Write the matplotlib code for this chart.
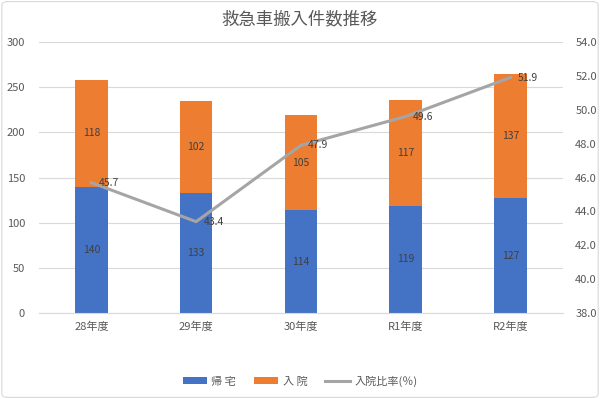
import numpy as np
import matplotlib.pyplot as plt
from matplotlib.patches import FancyBboxPatch

plt.rcParams['font.family'] = ['Noto Sans CJK JP', 'DejaVu Sans']

# データ
categories = ['28年度', '29年度', '30年度', 'R1年度', 'R2年度']
kitaku = [140, 133, 114, 119, 127]
nyuin = [118, 102, 105, 117, 137]
ratio = [45.7, 43.4, 47.9, 49.6, 51.9]

blue = '#4472C4'
orange = '#ED7D31'
gray_line = '#A5A5A5'
text_gray = '#595959'

fig = plt.figure(figsize=(6, 3.99), dpi=100)
ax = fig.add_axes([0.065, 0.215, 0.873, 0.68])
ax2 = ax.twinx()

x = np.arange(len(categories))
w = 0.31
b1 = ax.bar(x, kitaku, w, color=blue, label='帰 宅', zorder=2)
b2 = ax.bar(x, nyuin, w, bottom=kitaku, color=orange, label='入 院', zorder=2)

for i in range(len(x)):
    ax.text(x[i], kitaku[i] / 2, str(kitaku[i]), ha='center', va='center',
            fontsize=7.5, color='#404040', zorder=3)
    ax.text(x[i], kitaku[i] + nyuin[i] / 2, str(nyuin[i]), ha='center', va='center',
            fontsize=7.5, color='#404040', zorder=3)

l1, = ax2.plot(x, ratio, color=gray_line, lw=2.2, label='入院比率(％)', zorder=4)
for i in range(len(x)):
    ax2.text(x[i] + 0.07, ratio[i], f'{ratio[i]:.1f}', ha='left', va='center',
             fontsize=7.5, color='#404040', zorder=5)

ax.set_xlim(-0.5, len(x) - 0.5)
ax.set_ylim(0, 300)
ax.set_yticks(np.arange(0, 301, 50))
ax2.set_ylim(38, 54)
ax2.set_yticks(np.arange(38, 54.1, 2))
ax2.set_yticklabels([f'{v:.1f}' for v in np.arange(38, 54.1, 2)])

ax.set_xticks(x)
ax.set_xticklabels(categories)
ax.grid(axis='y', color='#D9D9D9', lw=0.8, zorder=0)
ax.set_axisbelow(True)

for a in (ax, ax2):
    for s in a.spines.values():
        s.set_visible(False)
    a.tick_params(length=0, labelsize=8, colors=text_gray)
ax.spines['bottom'].set_visible(True)
ax.spines['bottom'].set_color('#D9D9D9')
ax.tick_params(axis='y', pad=10)
ax2.tick_params(axis='y', pad=9)
ax.tick_params(axis='x', pad=6)

fig.text(0.5, 0.952, '救急車搬入件数推移', ha='center', va='center',
         fontsize=12.5, color=text_gray)

fig.legend(handles=[b1, b2, l1], loc='center', bbox_to_anchor=(0.5, 0.045),
           ncol=3, frameon=False, fontsize=8, labelcolor=text_gray,
           handlelength=2.2, handleheight=0.5, columnspacing=1.6, handletextpad=0.4)

border = FancyBboxPatch((0.003, 0.004), 0.994, 0.992, boxstyle='round,pad=0,rounding_size=0.01',
                        transform=fig.transFigure, fill=False, edgecolor='#D9D9D9', lw=0.8)
fig.patches.append(border)

fig.savefig('out.png', dpi=100)
